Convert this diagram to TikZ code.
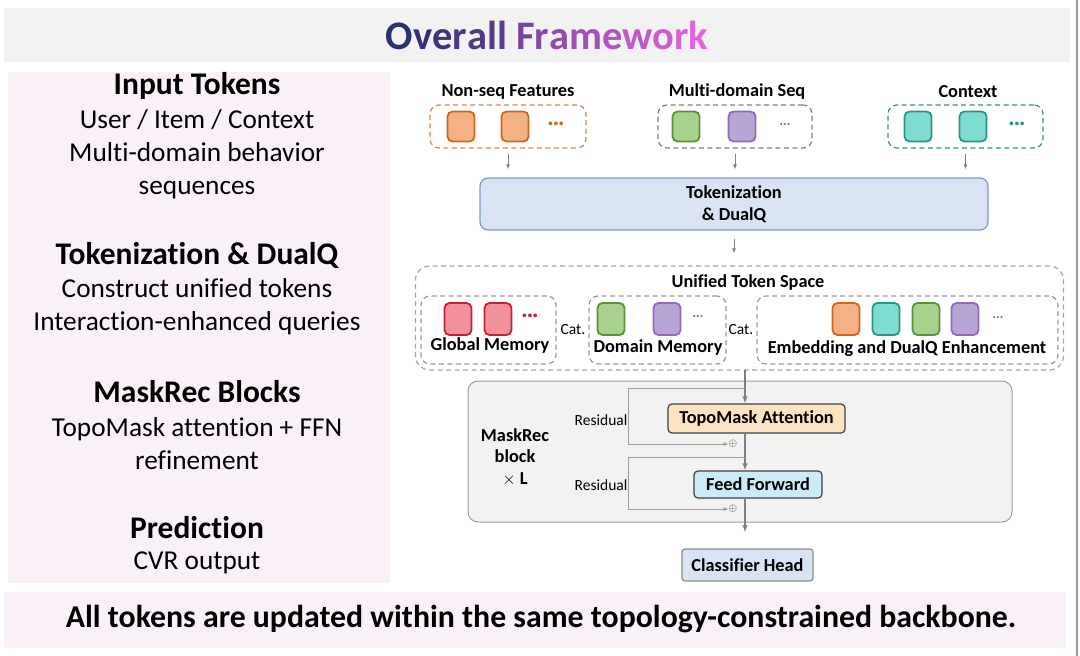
\documentclass[tikz,border=0pt]{standalone}
\usepackage{fontspec}
\setmainfont{Carlito}[RawFeature=-liga]
\usetikzlibrary{arrows.meta,positioning}

\definecolor{titlebg}{HTML}{F2F2F2}
\definecolor{panelpink}{HTML}{FAF1F8}
\definecolor{ttlA}{HTML}{2B3070}
\definecolor{ttlB}{HTML}{E462DE}
\definecolor{orgfill}{HTML}{F4B183}
\definecolor{orgdraw}{HTML}{D0651C}
\definecolor{grnfill}{HTML}{A9D18E}
\definecolor{grndraw}{HTML}{5A9236}
\definecolor{purfill}{HTML}{B7A5D6}
\definecolor{purdraw}{HTML}{9068C0}
\definecolor{tealfill}{HTML}{7EDDD2}
\definecolor{tealdraw}{HTML}{2A9485}
\definecolor{redfill}{HTML}{F0919C}
\definecolor{reddraw}{HTML}{C81E36}
\definecolor{tokfill}{HTML}{DAE3F3}
\definecolor{tokdraw}{HTML}{7F9AC4}
\definecolor{attfill}{HTML}{FCE4C2}
\definecolor{fffill}{HTML}{CDEBF7}
\definecolor{blockfill}{HTML}{F2F2F2}
\definecolor{arrowgrey}{HTML}{7F7F7F}

\newcommand{\fsTitle}{\fontsize{40.5}{48}\selectfont\bfseries}
\newcommand{\fsHead}{\fontsize{31.5}{37}\selectfont\bfseries}
\newcommand{\fsBody}{\fontsize{27.3}{33}\selectfont}
\newcommand{\fsLbl}{\fontsize{18.3}{21.5}\selectfont\bfseries}
\newcommand{\fsSmall}{\fontsize{15.5}{18}\selectfont}
\newcommand{\fsFoot}{\fontsize{31.8}{36}\selectfont\bfseries}
\newcommand{\gl}[2]{\textcolor{ttlB!#1!ttlA}{#2}}

\begin{document}
\begin{tikzpicture}[x=1pt,y=-1pt,
  tok/.style n args={2}{draw=#1, fill=#2, line width=1.8pt, rounded corners=5pt,
    minimum width=27pt, minimum height=30pt, inner sep=0pt},
  grp/.style={draw=#1, dash pattern=on 5pt off 3.5pt, line width=1.2pt,
    rounded corners=9pt, inner sep=0pt},
  head/.style={font=\fsHead, inner sep=0pt},
  body/.style={font=\fsBody, align=center, inner sep=0pt},
  lbl/.style={font=\fsLbl, inner sep=0pt},
  small/.style={font=\fsSmall, inner sep=0pt},
  opbox/.style={draw=black!75, line width=1.2pt, rounded corners=4pt, font=\fsLbl},
  arr/.style={-{Latex[length=5pt,width=4pt]}, draw=arrowgrey, line width=1pt},
  spinearr/.style={-{Latex[length=7pt,width=5.5pt]}, draw=arrowgrey, line width=1.6pt},
  resid/.style={-{Latex[length=5pt,width=4pt]}, draw=black!38, line width=0.8pt}]
\useasboundingbox (0,0) rectangle (1080,656);

% bands and panels
\fill[titlebg] (4,8) rectangle (1070,62);
\fill[panelpink] (8,72) rectangle (390,583);
\fill[panelpink] (4,592) rectangle (1066,648);
\draw[black!40, line width=1.5pt] (1077,0) -- (1077,656);

\node[font=\fsTitle, inner sep=0pt] (title) at (547,35)
  {\gl{0}{O}\gl{5}{v}\gl{10}{e}\gl{15}{r}\gl{20}{a}\gl{24}{l}\gl{28}{l} \gl{42}{F}\gl{48}{r}\gl{55}{a}\gl{64}{m}\gl{72}{e}\gl{80}{w}\gl{88}{o}\gl{94}{r}\gl{100}{k}};

% left summary
\node[head] (inhead) at (197,86) {Input Tokens};
\node[body] (inbody) at (197,154) {User / Item / Context\\Multi-domain behavior\\sequences};
\node[head] (tkhead) at (197,255) {Tokenization \& DualQ};
\node[body] (tkbody) at (197,306.5) {Construct unified tokens\\Interaction-enhanced queries};
\node[head] (mrhead) at (197,392) {MaskRec Blocks};
\node[body] (mrbody) at (197,443.5) {TopoMask attention + FFN\\refinement};
\node[head] (prhead) at (197,528) {Prediction};
\node[body] (prbody) at (197,563) {CVR output};

\node[font=\fsFoot, inner sep=0pt] (foot) at (541,619)
  {All tokens are updated within the same topology-constrained backbone.};

% input groups
\node[lbl] (nslbl) at (508,92) {Non-seq Features};
\node[lbl] (mdlbl) at (737,92) {Multi-domain Seq};
\node[lbl] (cxlbl) at (968,92) {Context};
\node[grp=orgdraw!80, minimum width=156pt, minimum height=43pt] (nonseq) at (508,126.5) {};
\node[grp=black!50, minimum width=154pt, minimum height=43pt] (multi) at (735,126.5) {};
\node[grp=tealdraw, minimum width=155pt, minimum height=43pt] (ctx) at (965.5,126.5) {};
\node[tok={orgdraw}{orgfill}] (ns1) at (461,126.5) {};
\node[tok={orgdraw}{orgfill}] (ns2) at (515,126.5) {};
\node[font=\bfseries\fontsize{20}{20}\selectfont, text=orgdraw, inner sep=0pt] (nsdots) at (556,126) {···};
\node[tok={grndraw}{grnfill}] (md1) at (686,126.5) {};
\node[tok={purdraw}{purfill}] (md2) at (742,126.5) {};
\node[font=\fontsize{14}{14}\selectfont, text=black!60, inner sep=0pt] (mddots) at (785,126) {···};
\node[tok={tealdraw}{tealfill}] (cx1) at (918,126.5) {};
\node[tok={tealdraw}{tealfill}] (cx2) at (973,126.5) {};
\node[font=\bfseries\fontsize{20}{20}\selectfont, text=tealdraw, inner sep=0pt] (cxdots) at (1017,126) {···};

% tokenization
\node[draw=tokdraw, fill=tokfill, line width=1.2pt, rounded corners=8pt, minimum width=508pt,
  minimum height=52pt, align=center, font=\fsLbl] (tok) at (734,204) {Tokenization\\\& DualQ};
\foreach \g in {nonseq,multi,ctx}
  \draw[arr] ([yshift=-5pt]\g.south) -- ([yshift=8pt]\g.south |- tok.north);

% unified token space
\node[grp=black!35, minimum width=648pt, minimum height=104pt, rounded corners=14pt] (uni) at (739.5,318) {};
\node[lbl] (unilbl) at (748,283) {Unified Token Space};
\draw[arr] ([yshift=-8pt]tok.south) -- ([yshift=12pt]uni.north -| tok.south);
\node[grp=black!40, minimum width=135pt, minimum height=68pt] (glob) at (488.5,330) {};
\node[grp=black!40, minimum width=137pt, minimum height=68pt] (dom) at (657.5,330) {};
\node[grp=black!40, minimum width=301pt, minimum height=68pt] (emb) at (907.5,330) {};
\node[tok={reddraw}{redfill}, minimum height=32pt] (gm1) at (458,319) {};
\node[tok={reddraw}{redfill}, minimum height=32pt] (gm2) at (498,319) {};
\node[font=\bfseries\fontsize{20}{20}\selectfont, text=reddraw, inner sep=0pt] (gmdots) at (530,318) {···};
\node[tok={grndraw}{grnfill}, minimum height=32pt] (dm1) at (611,319) {};
\node[tok={purdraw}{purfill}, minimum height=32pt] (dm2) at (667,319) {};
\node[font=\fontsize{14}{14}\selectfont, text=black!60, inner sep=0pt] (dmdots) at (698,318) {···};
\node[tok={orgdraw}{orgfill}, minimum height=32pt] (em1) at (846,319) {};
\node[tok={tealdraw}{tealfill}, minimum height=32pt] (em2) at (886,319) {};
\node[tok={grndraw}{grnfill}, minimum height=32pt] (em3) at (926,319) {};
\node[tok={purdraw}{purfill}, minimum height=32pt] (em4) at (965,319) {};
\node[font=\fontsize{14}{14}\selectfont, text=black!60, inner sep=0pt] (emdots) at (998,319) {···};
\node[lbl] (globlbl) at (490,346) {Global Memory};
\node[lbl] (domlbl) at (658,348) {Domain Memory};
\node[lbl] (emblbl) at (907,349) {Embedding and DualQ Enhancement};
\node[small] (cat1) at (573,330) {Cat.};
\node[small] (cat2) at (741,330) {Cat.};

% maskrec block
\node[draw=black!38, fill=blockfill, line width=1pt, rounded corners=10pt,
  minimum width=544pt, minimum height=141pt] (block) at (740,451.5) {};
\node[font=\fsLbl, align=center, inner sep=0pt] (blocklbl) at (515,457) {MaskRec\\block\\\textmd{$\times$} L};
\node[opbox, fill=attfill, minimum width=177pt, minimum height=29pt] (topo) at (756.5,418.5) {TopoMask Attention};
\node[opbox, fill=fffill, minimum width=128pt, minimum height=27pt] (ff) at (758,484.5) {Feed Forward};
\node[small] (res1) at (601,420) {Residual};
\node[small] (res2) at (601,485) {Residual};
\node[inner sep=0pt, font=\fontsize{11}{11}\selectfont, text=black!80] (plus1) at (733,444) {$\oplus$};
\node[inner sep=0pt, font=\fontsize{11}{11}\selectfont, text=black!80] (plus2) at (733,509) {$\oplus$};
\node[draw=black!45, fill=tokfill, line width=1.2pt, rounded corners=3pt, minimum width=131pt,
  minimum height=32pt, font=\fsLbl] (cls) at (747.5,565) {Classifier Head};

\coordinate (spine) at (745,370);
\coordinate (r1) at (745,388);
\coordinate (r2) at (745,457);
\draw[spinearr] (spine) -- (spine |- topo.north);
\draw[spinearr] (topo.south -| spine) -- (ff.north -| spine);
\draw[spinearr] (ff.south -| spine) -- ([yshift=16pt]cls.north -| spine);
\draw[resid] (r1) -- ++(-117,0) |- (plus1.west);
\draw[resid] (r2) -- ++(-117,0) |- (plus2.west);
\end{tikzpicture}
\end{document}
